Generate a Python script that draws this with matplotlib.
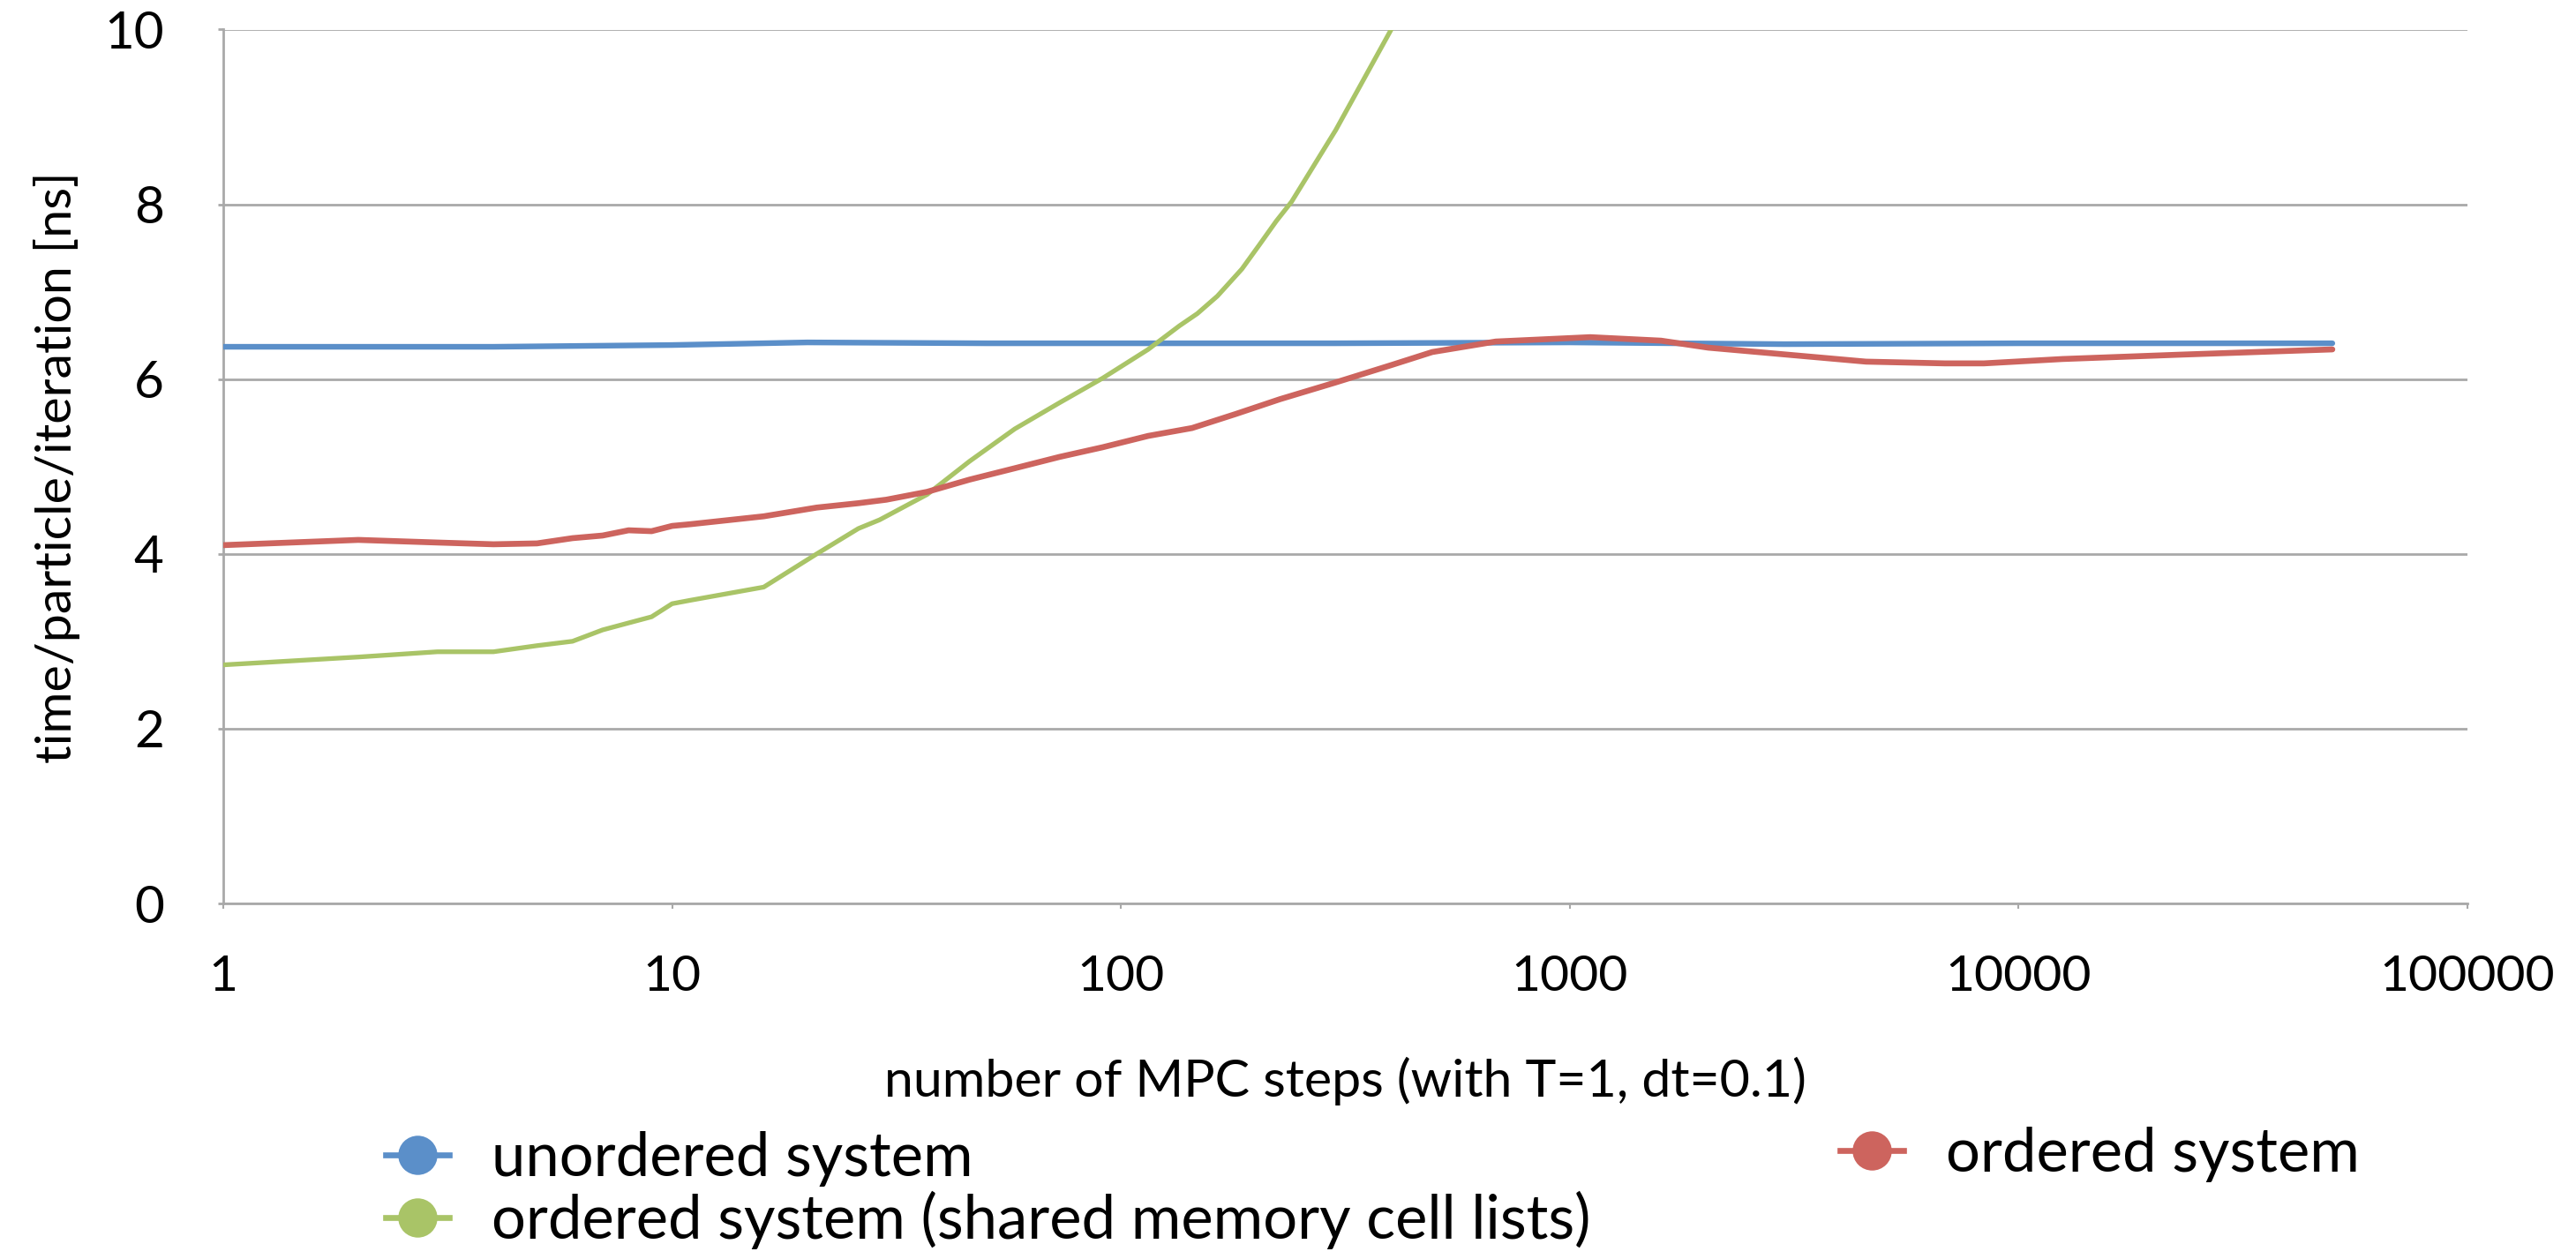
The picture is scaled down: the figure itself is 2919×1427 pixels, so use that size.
import matplotlib
matplotlib.use("Agg")
import matplotlib.pyplot as plt
from matplotlib.lines import Line2D

plt.rcParams['font.family'] = ['Lato', 'DejaVu Sans']

# time per particle per iteration [ns] versus number of MPC steps
unordered_steps = [1, 2, 4, 10, 20, 50, 100, 300, 1000, 3000, 10000, 50000]
unordered_time = [6.37, 6.37, 6.37, 6.39, 6.42, 6.41, 6.41, 6.41, 6.42, 6.40, 6.41, 6.41]

ordered_steps = [1, 2, 3, 4, 5, 6, 7, 8, 9, 10, 11, 16, 21, 26, 30, 37, 46, 58, 73, 91,
                 115, 144, 180, 226, 300, 400, 494, 684, 1111, 1597, 2035, 3050, 4570,
                 6850, 8370, 12530, 22960, 50000]
ordered_time = [4.10, 4.16, 4.13, 4.11, 4.12, 4.18, 4.21, 4.27, 4.26, 4.32, 4.34, 4.43,
                4.53, 4.58, 4.62, 4.71, 4.85, 4.98, 5.11, 5.22, 5.35, 5.44, 5.60, 5.77,
                5.96, 6.16, 6.31, 6.43, 6.48, 6.44, 6.36, 6.28, 6.20, 6.18, 6.18, 6.23,
                6.28, 6.34]

shared_steps = [1, 2, 3, 4, 5, 6, 7, 8, 9, 10, 11, 16, 21, 26, 29, 37, 46, 58, 73, 91,
                115, 135, 148, 164, 186, 203, 222, 240, 301, 400]
shared_time = [2.73, 2.82, 2.88, 2.88, 2.95, 3.00, 3.13, 3.21, 3.28, 3.43, 3.47, 3.62,
               4.00, 4.29, 4.39, 4.68, 5.06, 5.43, 5.73, 6.01, 6.34, 6.61, 6.75, 6.95,
               7.26, 7.53, 7.81, 8.03, 8.85, 10.00]

x_ticks = [1, 10, 100, 1000, 10000, 100000]
x_tick_labels = ['1', '10', '100', '1000', '10000', '100000']
y_ticks = [0, 2, 4, 6, 8, 10]

labels = ['unordered system', 'ordered system (shared memory cell lists)', 'ordered system']
colors = ['#5B8FC9', '#A9C467', '#CD645E']
grid_color = '#A9A9A9'

W, H = 2919, 1427
fig = plt.figure(figsize=(W / 100, H / 100), dpi=100)
ax = fig.add_axes([253 / W, 1 - 1024 / H, (2796 - 253) / W, (1024 - 33.5) / H])

ax.plot(unordered_steps, unordered_time, color=colors[0], lw=4.6, solid_capstyle='round',
        solid_joinstyle='round', zorder=3)
ax.plot(shared_steps, shared_time, color=colors[1], lw=3.8, solid_capstyle='round',
        solid_joinstyle='round', zorder=3)
ax.plot(ordered_steps, ordered_time, color=colors[2], lw=4.8, solid_capstyle='round',
        solid_joinstyle='round', zorder=3)

ax.set_xscale('log')
ax.set_xlim(1, 100000)
ax.set_ylim(0, 10)
ax.set_xticks(x_ticks)
ax.set_xticklabels(x_tick_labels)
ax.minorticks_off()
ax.set_yticks(y_ticks)
ax.set_yticklabels([str(v) for v in y_ticks])

ax.yaxis.grid(True, color=grid_color, lw=2.0, zorder=0)
ax.set_axisbelow(True)
for side in ('top', 'right'):
    ax.spines[side].set_visible(False)
for side in ('left', 'bottom'):
    ax.spines[side].set_color(grid_color)
    ax.spines[side].set_linewidth(2.0)

ax.tick_params(axis='y', direction='out', length=4.5, width=2.0, color=grid_color,
               labelsize=42, pad=44)
ax.tick_params(axis='x', direction='out', length=4.5, width=1.5, color=grid_color,
               labelsize=41, pad=37)

ax.set_xlabel('number of MPC steps (with T=1, dt=0.1)', fontsize=40)
ax.xaxis.set_label_coords(0.5, -(1225 - 1024) / (1024 - 33.5), transform=ax.transAxes)
ax.xaxis.label.set_verticalalignment('center')
ax.set_ylabel('time/particle/iteration [ns]', fontsize=36)
ax.yaxis.set_label_coords(-(253 - 65) / (2796 - 253), 1 - (530 - 33.5) / (1024 - 33.5))
ax.yaxis.label.set_verticalalignment('center')

# size the axis titles to their printed extents (x title ~1047 px wide, y title ~672 px tall)
fig.canvas.draw()
renderer = fig.canvas.get_renderer()
xl = ax.xaxis.label
xl.set_fontsize(xl.get_fontsize() * 1047 / xl.get_window_extent(renderer).width)
yl = ax.yaxis.label
yl.set_fontsize(yl.get_fontsize() * 672 / yl.get_window_extent(renderer).height)

handles = [Line2D([], [], color=c, lw=4.8, marker='o', markersize=32,
                  markeredgewidth=0) for c in colors]

leg_kw = dict(frameon=False, fontsize=49.5, handlelength=1.05, handletextpad=0.7,
              borderpad=0, borderaxespad=0, labelspacing=0.08, loc='center left')
leg1 = fig.legend(handles[:2], labels[:2],
                  bbox_to_anchor=(437 / W, 1 - 1349 / H), **leg_kw)
leg2 = fig.legend(handles[2:], labels[2:],
                  bbox_to_anchor=(2085 / W, 1 - 1309 / H), **leg_kw)

fig.savefig('out.png', dpi=100, facecolor='white')
